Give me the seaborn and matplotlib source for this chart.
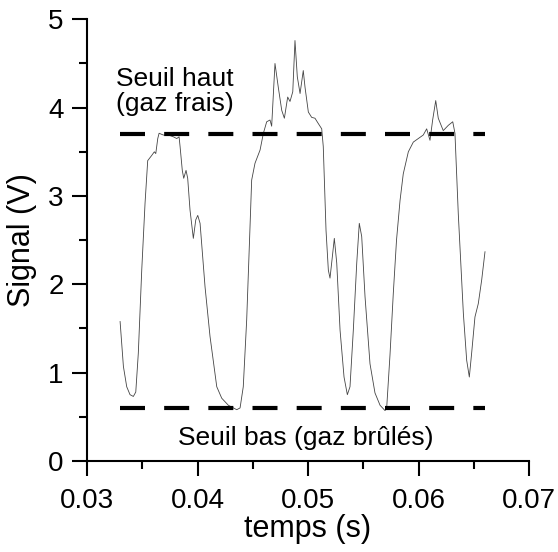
import numpy as np
import pandas as pd
import seaborn as sns
import matplotlib.pyplot as plt
from matplotlib.ticker import MultipleLocator

# signal (temps in s, signal in V)
temps = [0.03299, 0.03329, 0.03359, 0.03389, 0.03419, 0.03441, 0.03464, 0.03495,
         0.03525, 0.03549, 0.03586, 0.03609, 0.03622, 0.03640, 0.03652, 0.03690,
         0.03736, 0.03781, 0.03812, 0.03833, 0.03842, 0.03862, 0.03875, 0.03896,
         0.03911, 0.03932, 0.03962, 0.03984, 0.04002, 0.04023, 0.04068, 0.04113,
         0.04174, 0.04219, 0.04279, 0.04355, 0.04385, 0.04414, 0.04445, 0.04475,
         0.04490, 0.04520, 0.04566, 0.04596, 0.04626, 0.04656, 0.04671, 0.04701,
         0.04731, 0.04762, 0.04786, 0.04816, 0.04837, 0.04862, 0.04882, 0.04903,
         0.04928, 0.04957, 0.04973, 0.05003, 0.05033, 0.05063, 0.05093, 0.05124,
         0.05138, 0.05163, 0.05184, 0.05199, 0.05220, 0.05238, 0.05260, 0.05290,
         0.05326, 0.05356, 0.05380, 0.05410, 0.05441, 0.05464, 0.05486, 0.05516,
         0.05561, 0.05606, 0.05652, 0.05697, 0.05712, 0.05742, 0.05772, 0.05801,
         0.05833, 0.05862, 0.05908, 0.05953, 0.05998, 0.06043, 0.06074, 0.06104,
         0.06128, 0.06156, 0.06179, 0.06224, 0.06270, 0.06310, 0.06330, 0.06360,
         0.06406, 0.06436, 0.06460, 0.06481, 0.06511, 0.06541, 0.06572, 0.06602]
signal = [1.58, 1.07, 0.84, 0.75, 0.73, 0.78, 1.22, 2.16,
          2.92, 3.40, 3.46, 3.50, 3.48, 3.65, 3.71, 3.69,
          3.69, 3.67, 3.65, 3.67, 3.56, 3.29, 3.20, 3.29,
          3.20, 2.84, 2.52, 2.73, 2.78, 2.69, 1.97, 1.41,
          0.84, 0.71, 0.63, 0.58, 0.60, 0.84, 1.60, 2.65,
          3.18, 3.37, 3.52, 3.71, 3.84, 3.86, 3.79, 4.50,
          4.23, 3.97, 3.88, 4.12, 4.07, 4.18, 4.76, 4.35,
          4.16, 4.42, 4.23, 3.95, 3.89, 3.88, 3.82, 3.76,
          3.56, 2.61, 2.16, 2.07, 2.31, 2.52, 2.24, 1.48,
          0.95, 0.75, 0.84, 1.48, 2.24, 2.69, 2.54, 1.86,
          1.10, 0.77, 0.63, 0.57, 0.60, 1.20, 1.90, 2.50,
          2.95, 3.25, 3.50, 3.61, 3.65, 3.69, 3.76, 3.63,
          3.86, 4.08, 3.88, 3.74, 3.80, 3.84, 3.71, 2.80,
          1.67, 1.14, 0.95, 1.22, 1.63, 1.78, 2.05, 2.37]

seuil_t = [0.033, 0.066]
seuil_haut = 3.7
seuil_bas = 0.6

sns.set_style('ticks')
plt.rcParams['font.family'] = ['Liberation Sans', 'DejaVu Sans']
for key in ('text.color', 'axes.labelcolor', 'xtick.color', 'ytick.color', 'axes.edgecolor'):
    plt.rcParams[key] = 'black'

fig = plt.figure(figsize=(5.58, 5.52), dpi=100)
ax = fig.add_axes([0.156, 0.165, 0.792, 0.8])

df = pd.DataFrame({'temps': temps, 'signal': signal})
sns.lineplot(data=df, x='temps', y='signal', ax=ax, color='#444444',
             lw=0.6, estimator=None, sort=False)

for niveau in (seuil_haut, seuil_bas):
    sns.lineplot(x=seuil_t, y=[niveau, niveau], ax=ax, color='black', lw=3,
                 dashes=False, linestyle=(0, (6, 4.6)))

# va='baseline' sets the last line's baseline
ax.text(0.03258, 3.96, 'Seuil haut\n(gaz frais)', fontsize=19,
        ha='left', va='baseline', linespacing=1.05)
ax.text(0.03819, 0.181, 'Seuil bas (gaz brûlés)', fontsize=19,
        ha='left', va='baseline')

ax.set_xlim(0.03, 0.07)
ax.set_ylim(0, 5)
ax.xaxis.set_major_locator(MultipleLocator(0.01))
ax.xaxis.set_minor_locator(MultipleLocator(0.005))
ax.yaxis.set_major_locator(MultipleLocator(1))
ax.yaxis.set_minor_locator(MultipleLocator(0.5))
ax.set_xticklabels([f'{v:.2f}' for v in ax.get_xticks()])

ax.tick_params(which='major', length=10.8, width=1.5, labelsize=20)
ax.tick_params(axis='x', which='major', pad=9)
ax.tick_params(axis='y', which='major', pad=6)
ax.tick_params(which='minor', length=5.8, width=1.5)
for side in ('left', 'bottom'):
    ax.spines[side].set_linewidth(1.5)
sns.despine(ax=ax)

ax.set_xlabel('temps (s)', fontsize=22, labelpad=0)
ax.set_ylabel('Signal (V)', fontsize=22, labelpad=8)

fig.savefig('out.png', dpi=100)
